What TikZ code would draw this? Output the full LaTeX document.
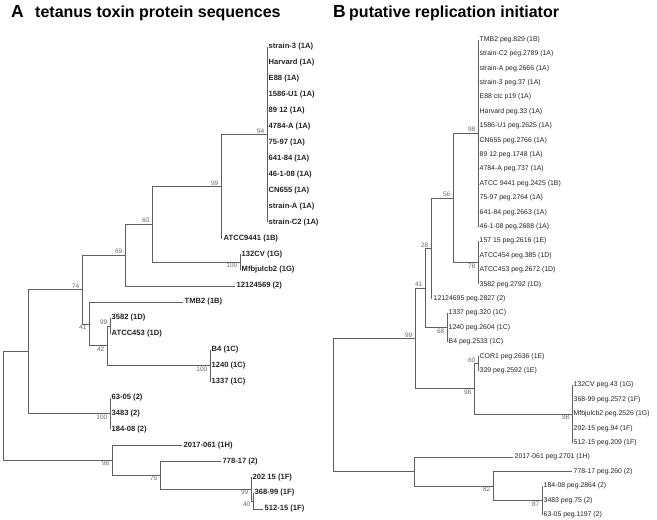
\documentclass[tikz,border=0pt]{standalone}
\usepackage{fontspec}
\setmainfont{Liberation Sans}
\usepackage{tikz}
\usetikzlibrary{positioning}
\definecolor{branchgray}{RGB}{95,95,95}
\definecolor{bootgray}{RGB}{105,105,105}
\definecolor{tipblack}{RGB}{35,35,35}

\begin{document}
\begin{tikzpicture}[x=1pt,y=-1pt,
          branch/.style={draw=branchgray,line width=0.6pt},
          leafa/.style={anchor=west,inner xsep=1.5pt,inner ysep=0pt,text=tipblack,
                        font=\fontsize{7.6}{8}\selectfont\bfseries},
          leafb/.style={anchor=west,inner xsep=1.5pt,inner ysep=0pt,text=tipblack,
                        font=\fontsize{6.9}{8}\selectfont},
          bsup/.style={anchor=south east,inner xsep=2.5pt,inner ysep=1pt,text=bootgray,
                       font=\fontsize{6.5}{7}\selectfont},
          bsdown/.style={anchor=north east,inner xsep=2.5pt,inner ysep=1pt,text=bootgray,
                         font=\fontsize{6.5}{7}\selectfont},
          ttlletter/.style={anchor=base west,inner sep=0pt,font=\fontsize{17.5}{18}\selectfont\bfseries},
          ttl/.style={anchor=base west,inner sep=0pt,font=\fontsize{16}{16}\selectfont\bfseries}]
  \useasboundingbox (0,0) rectangle (657,520);

  % panel A: tetanus toxin
  \node[ttlletter] (tA) at (11,17) {A};
  \node[ttl] (tAtext) at (35,17) {tetanus toxin protein sequences};

  \foreach \t [count=\i from 0] in {strain-3 (1A),Harvard (1A),E88 (1A),1586-U1 (1A),
      89 12 (1A),4784-A (1A),75-97 (1A),641-84 (1A),46-1-08 (1A),CN655 (1A),
      strain-A (1A),strain-C2 (1A)}
    \node[leafa] (a\i) at (267,{47+15.93*\i}) {\t};
  \node[leafa] (a12) at (222,238.2) {ATCC9441 (1B)};
  \node[leafa] (a13) at (240,254.1) {132CV (1G)};
  \node[leafa] (a14) at (240,270.0) {Mfbjulcb2 (1G)};
  \node[leafa] (a15) at (235,286.0) {12124569 (2)};
  \node[leafa] (a16) at (183,301.9) {TMB2 (1B)};
  \node[leafa] (a17) at (110,317.8) {3582 (1D)};
  \node[leafa] (a18) at (110,333.7) {ATCC453 (1D)};
  \node[leafa] (a19) at (210,349.7) {B4 (1C)};
  \node[leafa] (a20) at (210,365.6) {1240 (1C)};
  \node[leafa] (a21) at (210,381.5) {1337 (1C)};
  \node[leafa] (a22) at (110,397.5) {63-05 (2)};
  \node[leafa] (a23) at (110,413.4) {3483 (2)};
  \node[leafa] (a24) at (110,429.3) {184-08 (2)};
  \node[leafa] (a25) at (182,445.3) {2017-061 (1H)};
  \node[leafa] (a26) at (221,461.2) {778-17 (2)};
  \node[leafa] (a27) at (251,477.1) {202 15 (1F)};
  \node[leafa] (a28) at (253,493.0) {368-99 (1F)};
  \node[leafa] (a29) at (263,509.0) {512-15 (1F)};

  \coordinate (nA94)  at (267,134.6);
  \coordinate (nA99a) at (221,186.4);
  \coordinate (nA100a) at (240,262.1);
  \coordinate (nA60)  at (152,224.2);
  \coordinate (nA69)  at (125,255.1);
  \coordinate (nA99b) at (110,325.8);
  \coordinate (nA100b) at (210,365.6);
  \coordinate (nA42)  at (107,345.7);
  \coordinate (nA41)  at (89,323.8);
  \coordinate (nA74)  at (82,289.4);
  \coordinate (nA100c) at (110,413.4);
  \coordinate (nA1)   at (28,351.4);
  \coordinate (nA40)  at (253,501.0);
  \coordinate (nA99c) at (251,489.0);
  \coordinate (nA75)  at (160,475.1);
  \coordinate (nA98)  at (112,460.2);
  \coordinate (rootA) at (3,405.8);

  \foreach \i in {0,...,11} \draw[branch] (nA94) |- (a\i.west);
  \draw[branch] (nA99a) |- (nA94);  \draw[branch] (nA99a) |- (a12.west);
  \draw[branch] (nA100a) |- (a13.west); \draw[branch] (nA100a) |- (a14.west);
  \draw[branch] (nA60) |- (nA99a);  \draw[branch] (nA60) |- (nA100a);
  \draw[branch] (nA69) |- (nA60);   \draw[branch] (nA69) |- (a15.west);
  \draw[branch] (nA99b) |- (a17.west); \draw[branch] (nA99b) |- (a18.west);
  \foreach \i in {19,20,21} \draw[branch] (nA100b) |- (a\i.west);
  \draw[branch] (nA42) |- (nA99b);  \draw[branch] (nA42) |- (nA100b);
  \draw[branch] (nA41) |- (a16.west); \draw[branch] (nA41) |- (nA42);
  \draw[branch] (nA74) |- (nA69);   \draw[branch] (nA74) |- (nA41);
  \foreach \i in {22,23,24} \draw[branch] (nA100c) |- (a\i.west);
  \draw[branch] (nA1) |- (nA74);    \draw[branch] (nA1) |- (nA100c);
  \draw[branch] (nA40) |- (a28.west); \draw[branch] (nA40) |- (a29.west);
  \draw[branch] (nA99c) |- (a27.west); \draw[branch] (nA99c) |- (nA40);
  \draw[branch] (nA75) |- (a26.west); \draw[branch] (nA75) |- (nA99c);
  \draw[branch] (nA98) |- (a25.west); \draw[branch] (nA98) |- (nA75);
  \draw[branch] (rootA) |- (nA1);   \draw[branch] (rootA) |- (nA98);

  \node[bsup]   (bA94)   at (nA94)   {94};
  \node[bsup]   (bA99a)  at (nA99a)  {99};
  \node[bsdown] (bA100a) at (nA100a) {100};
  \node[bsup]   (bA60)   at (nA60)   {60};
  \node[bsup]   (bA69)   at (nA69)   {69};
  \node[bsup]   (bA74)   at (nA74)   {74};
  \node[bsdown] (bA41)   at (nA41)   {41};
  \node[bsup]   (bA99b)  at (nA99b)  {99};
  \node[bsdown] (bA42)   at (nA42)   {42};
  \node[bsdown] (bA100b) at (nA100b) {100};
  \node[bsdown] (bA100c) at (nA100c) {100};
  \node[bsdown] (bA98)   at (nA98)   {98};
  \node[bsdown] (bA75)   at (nA75)   {75};
  \node[bsdown] (bA99c)  at (nA99c)  {99};
  \node[bsdown] (bA40)   at (nA40)   {40};

  % panel B: replication initiator
  \node[ttlletter] (tB) at (333,17) {B};
  \node[ttl] (tBtext) at (349,17) {putative replication initiator};

  \foreach \t [count=\j from 0] in {TMB2 peg.829 (1B),strain-C2 peg.2789 (1A),
      strain-A peg.2666 (1A),strain-3 peg.37 (1A),E88 ctc p19 (1A),Harvard peg.33 (1A),
      1586-U1 peg.2625 (1A),CN655 peg.2766 (1A),89 12 peg.1748 (1A),4784-A peg.737 (1A),
      ATCC 9441 peg.2425 (1B),75-97 peg.2764 (1A),641-84 peg.2663 (1A),46-1-08 peg.2688 (1A)}
    \node[leafb] (b\j) at (478,{39.5+14.4*\j}) {\t};
  \foreach \t [count=\j from 14] in {157 15 peg.2616 (1E),ATCC454 peg.385 (1D),
      ATCC453 peg.2672 (1D),3582 peg.2792 (1D)}
    \node[leafb] (b\j) at (478,{39.5+14.4*\j}) {\t};
  \node[leafb] (b18) at (432,298.7) {12124695 peg.2827 (2)};
  \foreach \t [count=\j from 19] in {1337 peg.320 (1C),1240 peg.2604 (1C),B4 peg.2533 (1C)}
    \node[leafb] (b\j) at (447,{39.5+14.4*\j}) {\t};
  \node[leafb] (b22) at (478,356.3) {COR1 peg.2636 (1E)};
  \node[leafb] (b23) at (478,370.7) {329 peg.2592 (1E)};
  \foreach \t [count=\j from 24] in {132CV peg.43 (1G),368-99 peg.2572 (1F),
      Mfbjulcb2 peg.2526 (1G),202-15 peg.94 (1F),512-15 peg.209 (1F)}
    \node[leafb] (b\j) at (572,{39.5+14.4*\j}) {\t};
  \node[leafb] (b29) at (513,457.1) {2017-061 peg.2701 (1H)};
  \node[leafb] (b30) at (572,471.5) {778-17 peg.260 (2)};
  \foreach \t [count=\j from 31] in {184-08 peg.2864 (2),3483 peg.75 (2),63-05 peg.1197 (2)}
    \node[leafb] (b\j) at (542,{39.5+14.4*\j}) {\t};

  \coordinate (nB98a) at (478,133.1);
  \coordinate (nB78)  at (478,262.7);
  \coordinate (nB56)  at (453,197.9);
  \coordinate (nB28)  at (431,248.3);
  \coordinate (nB68)  at (447,327.5);
  \coordinate (nB41)  at (425,287.9);
  \coordinate (nB60)  at (478,363.5);
  \coordinate (nB98c) at (572,413.9);
  \coordinate (nB98b) at (474,388.7);
  \coordinate (nB99)  at (415,338.3);
  \coordinate (nB87)  at (542,500.3);
  \coordinate (nB82)  at (493,485.9);
  \coordinate (nBlow) at (414,471.5);
  \coordinate (rootB) at (333,404.9);

  \foreach \j in {0,...,13} \draw[branch] (nB98a) |- (b\j.west);
  \foreach \j in {14,...,17} \draw[branch] (nB78) |- (b\j.west);
  \draw[branch] (nB56) |- (nB98a);  \draw[branch] (nB56) |- (nB78);
  \draw[branch] (nB28) |- (nB56);   \draw[branch] (nB28) |- (b18.west);
  \foreach \j in {19,20,21} \draw[branch] (nB68) |- (b\j.west);
  \draw[branch] (nB41) |- (nB28);   \draw[branch] (nB41) |- (nB68);
  \draw[branch] (nB60) |- (b22.west); \draw[branch] (nB60) |- (b23.west);
  \foreach \j in {24,...,28} \draw[branch] (nB98c) |- (b\j.west);
  \draw[branch] (nB98b) |- (nB60);  \draw[branch] (nB98b) |- (nB98c);
  \draw[branch] (nB99) |- (nB41);   \draw[branch] (nB99) |- (nB98b);
  \foreach \j in {31,32,33} \draw[branch] (nB87) |- (b\j.west);
  \draw[branch] (nB82) |- (b30.west); \draw[branch] (nB82) |- (nB87);
  \draw[branch] (nBlow) |- (b29.west); \draw[branch] (nBlow) |- (nB82);
  \draw[branch] (rootB) |- (nB99);  \draw[branch] (rootB) |- (nBlow);

  \node[bsup]   (bB98a) at (nB98a) {98};
  \node[bsdown] (bB78)  at (nB78)  {78};
  \node[bsup]   (bB56)  at (nB56)  {56};
  \node[bsup]   (bB28)  at (nB28)  {28};
  \node[bsdown] (bB68)  at (nB68)  {68};
  \node[bsup]   (bB41)  at (nB41)  {41};
  \node[bsup]   (bB60)  at (nB60)  {60};
  \node[bsdown] (bB98c) at (nB98c) {98};
  \node[bsdown] (bB98b) at (nB98b) {98};
  \node[bsup]   (bB99)  at (nB99)  {99};
  \node[bsdown] (bB87)  at (nB87)  {87};
  \node[bsdown] (bB82)  at (nB82)  {82};
\end{tikzpicture}
\end{document}
